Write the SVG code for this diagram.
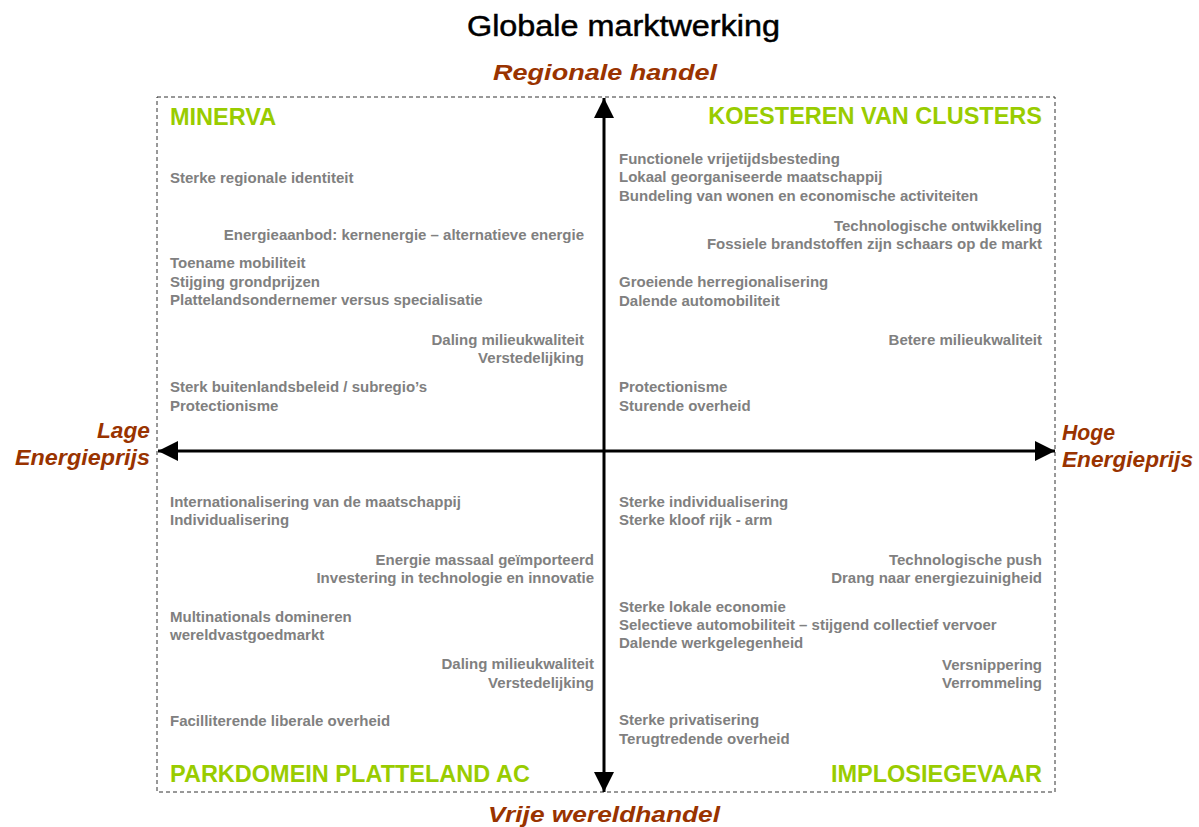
<svg xmlns="http://www.w3.org/2000/svg" width="1199" height="827" viewBox="0 0 1199 827">
<defs>
<style>
.title{font-family:"Liberation Sans",Arial,sans-serif;font-size:30px;fill:#000;stroke:#000;stroke-width:0.5px}
.axis{font-family:"Liberation Sans",Arial,sans-serif;font-size:22px;font-weight:bold;font-style:italic;fill:#993300}
.head{font-family:"Liberation Sans",Arial,sans-serif;font-size:23.5px;font-weight:bold;fill:#99cc00}
.t{font-family:"Liberation Sans",Arial,sans-serif;font-size:15px;font-weight:bold;fill:#808080}
.r{text-anchor:end}
</style>
<marker id="ah" viewBox="0 0 10 10" refX="10" refY="5" markerWidth="20" markerHeight="20" markerUnits="userSpaceOnUse" orient="auto">
<path d="M0,0 L10,5 L0,10 z" fill="#000"/>
</marker>
</defs>
<rect width="1199" height="827" fill="#fff"/>
<text class="title" x="467" y="36" textLength="313" lengthAdjust="spacingAndGlyphs">Globale marktwerking</text>
<rect x="157" y="97" width="898" height="695" fill="none" stroke="#333" stroke-width="1" stroke-dasharray="4,3"/>
<g id="connectors">
<line x1="604" y1="451" x2="604" y2="98" stroke="#000" stroke-width="3" marker-end="url(#ah)"/>
<line x1="604" y1="451" x2="604" y2="792" stroke="#000" stroke-width="3" marker-end="url(#ah)"/>
<line x1="604" y1="451" x2="158" y2="451" stroke="#000" stroke-width="3" marker-end="url(#ah)"/>
<line x1="604" y1="451" x2="1055" y2="451" stroke="#000" stroke-width="3" marker-end="url(#ah)"/>
</g>
<g id="axis-labels">
<text class="axis" x="493" y="80" textLength="224" lengthAdjust="spacingAndGlyphs">Regionale handel</text>
<text class="axis" x="488" y="822" textLength="232" lengthAdjust="spacingAndGlyphs">Vrije wereldhandel</text>
<text class="axis" x="97" y="438" textLength="53" lengthAdjust="spacingAndGlyphs">Lage</text>
<text class="axis" x="15" y="465" textLength="135" lengthAdjust="spacingAndGlyphs">Energieprijs</text>
<text class="axis" x="1062" y="440" textLength="53" lengthAdjust="spacingAndGlyphs">Hoge</text>
<text class="axis" x="1062" y="467" textLength="131" lengthAdjust="spacingAndGlyphs">Energieprijs</text>
</g>
<g id="q-minerva">
<text class="head" x="170" y="125">MINERVA</text>
<text class="t" x="170" y="183">Sterke regionale identiteit</text>
<text class="t r" x="584" y="240">Energieaanbod: kernenergie – alternatieve energie</text>
<text class="t" x="170" y="268">Toename mobiliteit</text>
<text class="t" x="170" y="287">Stijging grondprijzen</text>
<text class="t" x="170" y="305">Plattelandsondernemer versus specialisatie</text>
<text class="t r" x="584" y="345">Daling milieukwaliteit</text>
<text class="t r" x="584" y="363">Verstedelijking</text>
<text class="t" x="170" y="392">Sterk buitenlandsbeleid / subregio’s</text>
<text class="t" x="170" y="411">Protectionisme</text>
</g>
<g id="q-koesteren">
<text class="head r" x="1042" y="124">KOESTEREN VAN CLUSTERS</text>
<text class="t" x="619" y="164">Functionele vrijetijdsbesteding</text>
<text class="t" x="619" y="182">Lokaal georganiseerde maatschappij</text>
<text class="t" x="619" y="201">Bundeling van wonen en economische activiteiten</text>
<text class="t r" x="1042" y="231">Technologische ontwikkeling</text>
<text class="t r" x="1042" y="249">Fossiele brandstoffen zijn schaars op de markt</text>
<text class="t" x="619" y="287">Groeiende herregionalisering</text>
<text class="t" x="619" y="306">Dalende automobiliteit</text>
<text class="t r" x="1042" y="345">Betere milieukwaliteit</text>
<text class="t" x="619" y="392">Protectionisme</text>
<text class="t" x="619" y="411">Sturende overheid</text>
</g>
<g id="q-parkdomein">
<text class="t" x="170" y="507">Internationalisering van de maatschappij</text>
<text class="t" x="170" y="525">Individualisering</text>
<text class="t r" x="594" y="565">Energie massaal geïmporteerd</text>
<text class="t r" x="594" y="583">Investering in technologie en innovatie</text>
<text class="t" x="170" y="622">Multinationals domineren</text>
<text class="t" x="170" y="640">wereldvastgoedmarkt</text>
<text class="t r" x="594" y="669">Daling milieukwaliteit</text>
<text class="t r" x="594" y="688">Verstedelijking</text>
<text class="t" x="170" y="726">Facilliterende liberale overheid</text>
<text class="head" x="170" y="782">PARKDOMEIN PLATTELAND AC</text>
</g>
<g id="q-implosie">
<text class="t" x="619" y="507">Sterke individualisering</text>
<text class="t" x="619" y="525">Sterke kloof rijk - arm</text>
<text class="t r" x="1042" y="565">Technologische push</text>
<text class="t r" x="1042" y="583">Drang naar energiezuinigheid</text>
<text class="t" x="619" y="612">Sterke lokale economie</text>
<text class="t" x="619" y="630">Selectieve automobiliteit – stijgend collectief vervoer</text>
<text class="t" x="619" y="648">Dalende werkgelegenheid</text>
<text class="t r" x="1042" y="670">Versnippering</text>
<text class="t r" x="1042" y="688">Verrommeling</text>
<text class="t" x="619" y="725">Sterke privatisering</text>
<text class="t" x="619" y="744">Terugtredende overheid</text>
<text class="head r" x="1042" y="782">IMPLOSIEGEVAAR</text>
</g>
</svg>
